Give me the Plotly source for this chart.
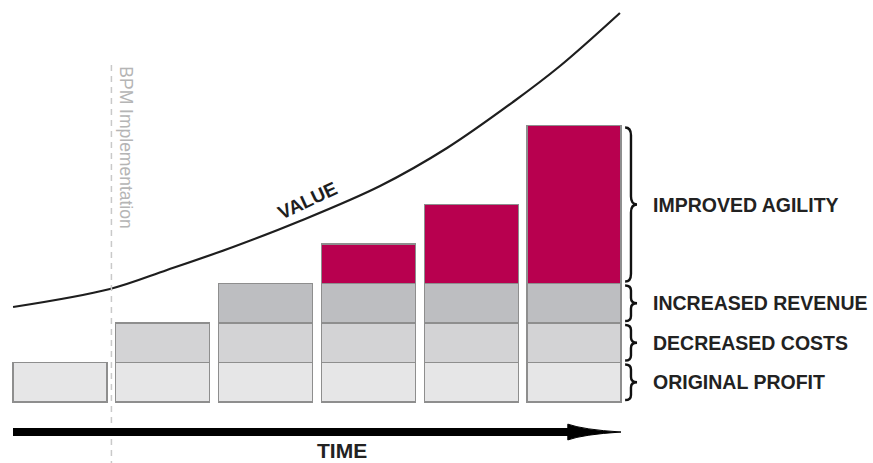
import plotly.graph_objects as go

# ---------------- data ----------------
periods = [0, 1, 2, 3, 4, 5]
original_profit = [1, 1, 1, 1, 1, 1]
decreased_costs = [None, 1, 1, 1, 1, 1]
increased_revenue = [None, None, 1, 1, 1, 1]
improved_agility = [None, None, None, 1, 2, 4]

value_x = [-0.457, 0.486, 1.041, 1.683, 2.335, 3.113, 3.765, 4.407, 4.864, 5.447]
value_y = [2.405, 2.861, 3.342, 3.924, 4.582, 5.468, 6.430, 7.595, 8.506, 9.848]

segment_labels = ["ORIGINAL PROFIT", "DECREASED COSTS", "INCREASED REVENUE", "IMPROVED AGILITY"]

# ---------------- styling ----------------
BAR_W = 0.915
LINE_C = "#8e8e8e"
FONT = "Liberation Sans, Arial, sans-serif"
colors = ["#e6e6e7", "#d3d3d5", "#bdbec1", "#b8004f"]

fig = go.Figure()
series = [original_profit, decreased_costs, increased_revenue, improved_agility]
for vals, col, name in zip(series, colors, segment_labels):
    fig.add_trace(go.Bar(
        x=periods, y=vals, width=BAR_W, name=name,
        marker=dict(color=col, line=dict(color=LINE_C, width=1.2)),
        hoverinfo="skip"))

fig.add_trace(go.Scatter(
    x=value_x, y=value_y, mode="lines",
    line=dict(color="#1e1e1e", width=2.2, shape="spline", smoothing=1.0),
    hoverinfo="skip"))

shapes = []
annotations = []

# BPM implementation dashed line between first and second period
bpm_x = (periods[0] + periods[1]) / 2
shapes.append(dict(type="line", xref="x", yref="y", x0=bpm_x, x1=bpm_x,
                   y0=8.53, y1=-1.7, line=dict(color="#c9c9c9", width=1.5, dash="6px,5px")))
annotations.append(dict(x=bpm_x + 0.145, y=6.44, xref="x", yref="y", text="BPM Implementation",
                        textangle=90, showarrow=False,
                        font=dict(family=FONT, size=17.5, color="#b5b5b5")))

# braces + labels next to the last column
last = len(periods) - 1
right_edge = periods[last] + BAR_W / 2
bottoms = []
tops = []
cum = 0
for vals in series:
    v = vals[last] or 0
    bottoms.append(cum)
    cum += v
    tops.append(cum)

x0 = right_edge + 0.04
xs = right_edge + 0.097
xt = right_edge + 0.156
for lbl, b, t in zip(segment_labels, bottoms, tops):
    yt = t - 0.05
    yb = b + 0.05
    ym = (b + t) / 2
    d = 0.2 if (t - b) > 1.5 else 0.13
    path = (f"M {x0},{yt} Q {xs},{yt} {xs},{yt - d} L {xs},{ym + d} "
            f"Q {xs},{ym} {xt},{ym} Q {xs},{ym} {xs},{ym - d} "
            f"L {xs},{yb + d} Q {xs},{yb} {x0},{yb}")
    shapes.append(dict(type="path", xref="x", yref="y", path=path,
                       line=dict(color="#111111", width=2.4)))
    annotations.append(dict(x=right_edge + 0.29, y=ym, xref="x", yref="y", text=f"<b>{lbl}</b>",
                            xanchor="left", yanchor="middle", showarrow=False,
                            font=dict(family=FONT, size=19.5, color="#222222")))

# time arrow
left_edge = periods[0] - BAR_W / 2
ay = -0.76
shapes.append(dict(type="line", xref="x", yref="y", x0=left_edge, x1=5.0, y0=ay, y1=ay,
                   line=dict(color="#000000", width=8)))
hx = 4.94
shapes.append(dict(type="path", xref="x", yref="y",
                   path=(f"M {hx},{ay + 0.2} Q {hx + 0.15},{ay + 0.06} {right_edge},{ay} "
                         f"Q {hx + 0.15},{ay - 0.06} {hx},{ay - 0.2} Z"),
                   fillcolor="#000000", line=dict(color="#000000", width=1)))
annotations.append(dict(x=(left_edge + right_edge) / 2 + 0.24, y=-1.22, xref="x", yref="y",
                        text="<b>TIME</b>", showarrow=False,
                        font=dict(family=FONT, size=21, color="#222222")))

# VALUE label along curve
annotations.append(dict(x=2.41, y=5.1, xref="x", yref="y", text="<b>VALUE</b>", textangle=-25,
                        showarrow=False, font=dict(family=FONT, size=19, color="#1e1e1e")))

fig.update_layout(
    width=873, height=463, autosize=False,
    margin=dict(l=0, r=0, t=0, b=0),
    paper_bgcolor="white", plot_bgcolor="white",
    barmode="stack", showlegend=False,
    shapes=shapes, annotations=annotations,
    xaxis=dict(visible=False, range=[-0.584, 7.909], fixedrange=True),
    yaxis=dict(visible=False, range=[-1.544, 10.177], fixedrange=True),
)

fig.write_html("out.html", config={"displayModeBar": False})
